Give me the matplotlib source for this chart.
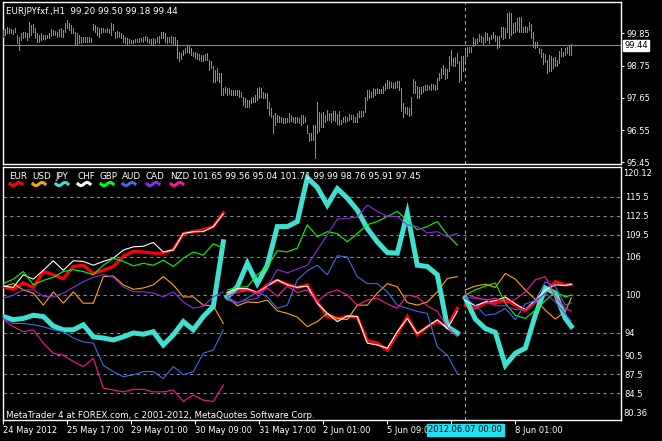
import numpy as np
import matplotlib
matplotlib.use("Agg")
import matplotlib.pyplot as plt
from matplotlib.lines import Line2D
import matplotlib.transforms as mtransforms

plt.rcParams["font.family"] = ["DejaVu Sans"]
plt.rcParams["font.size"] = 6

# ---- EURJPY H1 bars (high / low) ----
HIGH = [99.97, 99.99, 100.08, 100.02, 99.99, 99.97, 100.02, 99.80, 99.74, 99.85,
        99.89, 99.91, 99.85, 100.23, 100.14, 100.17, 100.02, 99.85, 99.80, 99.85,
        99.80, 99.80, 99.80, 99.85, 99.99, 99.97, 99.94, 99.91, 100.00, 100.02,
        99.97, 100.19, 100.31, 100.19, 100.14, 100.02, 99.89, 99.85, 99.80, 99.72,
        99.74, 99.72, 99.72, 99.71, 99.68, 100.17, 100.14, 100.08, 100.02, 100.02,
        100.02, 100.00, 100.02, 100.00, 100.19, 100.17, 99.91, 99.94, 99.89, 99.85,
        99.80, 99.74, 99.68, 99.65, 99.63, 99.63, 99.66, 99.65, 99.68, 99.68,
        99.71, 99.76, 99.71, 99.65, 99.65, 99.68, 99.65, 99.71, 99.76, 99.91,
        99.89, 99.85, 99.74, 99.74, 99.76, 99.74, 99.72, 99.63, 99.23, 99.17,
        99.28, 99.34, 99.46, 99.42, 99.34, 99.23, 99.23, 99.17, 99.14, 99.11,
        99.11, 99.14, 99.17, 98.94, 98.89, 98.72, 98.60, 98.66, 98.49, 98.49,
        97.98, 98.01, 97.98, 97.98, 97.92, 97.92, 97.92, 97.92, 97.92, 97.86,
        97.69, 97.64, 97.58, 97.58, 97.64, 97.69, 97.75, 97.98, 98.01, 97.98,
        97.86, 97.81, 97.81, 97.52, 97.30, 97.07, 97.12, 97.07, 97.03, 97.01,
        96.95, 96.95, 96.95, 97.12, 97.07, 97.01, 96.99, 97.01, 96.95, 97.07,
        97.07, 97.01, 96.73, 96.44, 96.46, 96.73, 96.73, 97.49, 97.18, 97.12,
        97.15, 97.07, 97.24, 97.12,
        97.12, 97.20, 97.20, 97.09, 97.20, 96.90, 96.99, 97.03, 97.01, 97.10,
        97.07, 97.07, 96.99, 97.12, 97.20, 97.20, 97.20, 97.69, 97.92, 97.92,
        97.86, 97.98, 97.94, 97.98, 97.94, 97.94, 98.06, 98.17, 98.26, 98.23,
        98.20, 98.17, 98.20, 98.23, 98.23, 97.98, 97.47, 97.35, 97.35, 97.30,
        97.69, 98.30, 98.23, 98.06, 98.01, 98.01, 98.06, 98.09, 98.09, 98.06,
        98.11, 98.12, 98.09, 98.32, 98.51, 98.66, 98.77, 98.68, 98.64, 99.08,
        99.28, 99.00, 99.03, 99.19, 98.91, 99.09, 99.06, 99.28, 99.40, 99.40,
        99.40, 99.71, 99.66, 99.68, 99.83, 99.77, 99.74, 99.88, 99.85, 99.71,
        99.81, 99.88, 99.80, 99.76, 99.76, 100.08, 100.05, 100.02, 100.54, 100.59,
        100.56, 100.19, 100.25, 100.39, 100.42, 100.42, 100.08, 100.10, 100.08, 100.25,
        100.17, 99.88, 99.57, 99.57, 99.34, 99.31, 99.17, 99.14, 98.94, 99.11,
        99.06, 99.00, 99.03, 98.94, 99.26, 99.36, 99.23, 99.34, 99.40, 99.46,
        99.49]
LOW = [99.74, 99.80, 99.85, 99.85, 99.85, 99.82, 99.91, 99.51, 99.28, 99.63,
       99.68, 99.74, 99.63, 99.74, 99.80, 99.91, 99.68, 99.57, 99.57, 99.63,
       99.65, 99.65, 99.68, 99.68, 99.76, 99.80, 99.80, 99.74, 99.76, 99.74,
       99.74, 99.91, 100.02, 99.97, 99.85, 99.85, 99.46, 99.46, 99.51, 99.51,
       99.57, 99.57, 99.57, 99.57, 99.57, 99.97, 99.91, 99.80, 99.74, 99.85,
       99.91, 99.89, 99.89, 99.85, 99.80, 99.97, 99.68, 99.72, 99.72, 99.68,
       99.57, 99.51, 99.49, 99.51, 99.51, 99.53, 99.55, 99.57, 99.57, 99.59,
       99.57, 99.63, 99.55, 99.51, 99.49, 99.46, 99.53, 99.57, 99.53, 99.68,
       99.68, 99.57, 99.51, 99.57, 99.51, 99.49, 99.46, 99.00, 98.89, 98.97,
       99.11, 99.17, 99.23, 99.17, 99.11, 99.06, 99.00, 98.97, 98.94, 98.91,
       98.91, 98.94, 98.94, 98.60, 98.66, 98.20, 98.20, 98.26, 98.20, 97.75,
       97.75, 97.81, 97.75, 97.78, 97.75, 97.75, 97.75, 97.75, 97.69, 97.69,
       97.41, 97.35, 97.33, 97.35, 97.47, 97.52, 97.52, 97.58, 97.64, 97.69,
       97.64, 97.64, 97.30, 97.07, 97.01, 96.44, 96.73, 96.84, 96.81, 96.84,
       96.78, 96.78, 96.81, 96.84, 96.87, 96.81, 96.78, 96.84, 96.78, 96.73,
       96.78, 96.84, 96.44, 96.16, 96.21, 96.21, 95.59, 96.44, 96.50, 96.67,
       96.67, 96.84, 96.90, 96.90,
       96.84, 96.90, 96.86, 96.76, 96.73, 96.76, 96.81, 96.84, 96.87, 96.90,
       96.92, 96.81, 96.81, 96.84, 97.01, 97.01, 97.03, 97.18, 97.58, 97.64,
       97.69, 97.69, 97.75, 97.81, 97.81, 97.81, 97.83, 97.92, 97.98, 97.98,
       98.01, 97.98, 97.98, 98.01, 97.92, 97.20, 97.01, 97.12, 97.09, 97.04,
       97.07, 97.81, 97.81, 97.66, 97.66, 97.78, 97.86, 97.92, 97.92, 97.94,
       97.92, 97.94, 97.90, 97.94, 98.26, 98.32, 98.47, 98.30, 98.32, 98.55,
       98.77, 98.72, 98.72, 98.83, 98.20, 98.26, 98.58, 98.94, 99.09, 99.23,
       99.23, 99.43, 99.49, 99.51, 99.59, 99.57, 99.49, 99.57, 99.63, 99.53,
       99.65, 99.68, 99.60, 99.36, 99.40, 99.74, 99.65, 99.68, 99.91, 99.68,
       99.80, 99.85, 99.91, 99.97, 99.91, 99.91, 99.91, 99.91, 99.91, 99.97,
       99.68, 99.40, 99.34, 99.38, 99.17, 99.03, 98.81, 98.86, 98.51, 98.55,
       98.58, 98.66, 98.72, 98.72, 98.83, 99.08, 99.06, 99.11, 99.19, 99.11,
       99.11]
TITLE = "EURJPYfxf.,H1  99.20 99.50 99.18 99.44"
LAST_PRICE = 99.44
PRICE_TICKS = [99.85, 98.75, 97.65, 96.55, 95.45]

# ---- currency index lines (three weekly-reset segments) ----
SEG_BARS = [list(range(0, 111, 5)), list(range(112, 228, 5)), list(range(231, 282, 5)) + [284]]
EUR = [[101.3, 100.9, 101.9, 101.2, 103.7, 103.2, 102.6, 104.5, 104.7, 103.4, 103.9, 104.5,
        106.1, 106.9, 106.8, 106.6, 106.6, 107.2, 109.7, 110.0, 110.3, 110.8, 113.0],
       [100.3, 100.8, 100.9, 100.3, 101.6, 102.3, 101.7, 101.2, 101.6, 98.9, 96.6, 96.3,
        96.6, 96.5, 92.8, 92.4, 91.3, 93.9, 96.6, 93.7, 95.0, 95.8, 95.0, 97.9],
       [98.4, 97.9, 98.8, 98.7, 99.3, 98.4, 97.5, 98.9, 100.5, 102.1, 101.6, 101.65]]
USD = [[101.3, 101.8, 100.8, 100.3, 98.4, 100.5, 98.7, 100.5, 98.7, 98.7, 102.9, 103.0,
        101.6, 100.9, 101.1, 101.6, 102.9, 101.6, 99.7, 99.7, 98.4, 98.3, 95.5],
       [99.7, 98.3, 98.9, 98.8, 99.2, 97.5, 97.1, 96.5, 95.0, 95.8, 97.1, 96.3,
        96.1, 98.4, 98.4, 100.3, 101.8, 101.3, 98.8, 98.4, 98.9, 100.5, 102.6, 102.9],
       [100.8, 101.4, 101.7, 101.2, 103.4, 102.5, 100.8, 99.3, 97.6, 96.2, 97.4, 99.56]]
JPY = [[96.6, 96.1, 96.3, 96.8, 96.6, 95.1, 94.5, 94.5, 95.3, 93.4, 93.2, 92.9,
        93.4, 94.0, 93.8, 94.2, 92.1, 93.7, 95.8, 94.5, 96.6, 98.2, 108.4],
       [99.7, 101.3, 105.0, 101.8, 104.7, 110.8, 110.8, 111.6, 118.5, 117.0, 114.2, 116.8,
        115.3, 113.4, 110.5, 108.4, 106.7, 106.6, 112.9, 104.7, 104.5, 103.2, 95.0, 94.0],
       [99.5, 96.2, 94.7, 94.1, 88.9, 90.8, 91.6, 96.8, 101.1, 100.3, 96.3, 95.04]]
CHF = [[101.4, 101.2, 103.2, 102.5, 103.9, 105.4, 103.9, 105.4, 105.3, 104.7, 105.3, 105.8,
        107.1, 107.6, 107.7, 108.3, 106.8, 107.1, 109.7, 110.0, 110.0, 110.8, 112.8],
       [100.4, 101.0, 101.0, 100.4, 101.4, 102.4, 101.6, 101.2, 101.4, 98.7, 97.1, 95.8,
        96.7, 96.6, 92.4, 92.1, 91.6, 94.2, 96.3, 93.9, 95.0, 96.1, 94.7, 97.4],
       [99.1, 98.3, 98.9, 99.1, 99.7, 98.6, 97.7, 99.2, 100.8, 101.6, 101.5, 101.71]]
GBP = [[101.8, 102.5, 103.7, 101.6, 102.3, 102.8, 103.7, 104.0, 103.7, 103.2, 104.7, 105.8,
        105.3, 104.6, 105.0, 104.7, 105.5, 104.5, 105.8, 106.8, 106.3, 108.1, 107.4],
       [100.8, 101.2, 101.3, 103.2, 104.5, 107.0, 106.8, 107.4, 111.1, 109.2, 110.0, 109.7,
        108.4, 109.7, 111.1, 111.6, 112.4, 113.2, 111.8, 110.3, 110.8, 111.6, 109.5, 107.9],
       [100.0, 100.8, 101.4, 101.9, 98.7, 96.8, 96.3, 97.6, 99.1, 100.5, 99.7, 99.99]]
AUD = [[96.3, 95.5, 95.5, 95.3, 95.0, 94.5, 94.2, 93.2, 92.6, 92.4, 88.9, 87.9,
        87.1, 87.4, 87.9, 87.9, 86.8, 88.7, 87.4, 87.9, 90.8, 91.3, 94.5],
       [99.2, 98.7, 99.5, 100.5, 99.7, 97.9, 98.4, 102.4, 103.8, 104.7, 103.2, 106.2,
        106.0, 102.9, 101.8, 101.8, 100.5, 98.4, 97.9, 97.4, 97.1, 91.8, 90.5, 87.6],
       [99.5, 98.4, 96.8, 97.0, 97.9, 96.1, 98.6, 99.1, 102.1, 101.3, 98.4, 98.76]]
CAD = [[99.5, 100.0, 100.8, 100.8, 99.8, 99.7, 100.3, 101.2, 102.1, 102.8, 103.2, 102.8,
        101.3, 100.5, 100.5, 100.3, 99.7, 100.5, 98.9, 97.9, 98.2, 99.7, 100.5],
       [99.7, 98.8, 99.2, 99.5, 101.3, 104.0, 103.5, 104.1, 104.7, 107.1, 109.5, 112.0,
        112.1, 112.3, 114.2, 113.2, 112.4, 112.4, 111.1, 110.8, 109.8, 110.0, 109.2, 109.7],
       [99.6, 99.5, 99.3, 98.3, 98.3, 97.7, 97.7, 98.9, 100.3, 98.9, 97.0, 95.91]]
NZD = [[96.1, 95.0, 94.2, 94.5, 92.4, 90.8, 90.5, 89.5, 88.7, 90.0, 85.3, 85.0,
        84.7, 85.1, 85.1, 84.7, 84.7, 85.0, 83.2, 84.2, 83.4, 83.2, 85.8],
       [99.8, 100.4, 100.7, 100.4, 101.1, 99.8, 101.4, 100.4, 100.8, 98.9, 100.3, 100.8,
        100.0, 98.4, 99.2, 99.5, 98.6, 97.9, 100.0, 99.7, 98.3, 97.4, 95.0, 93.4],
       [100.2, 99.6, 99.2, 99.5, 98.8, 99.3, 100.5, 102.4, 102.9, 99.7, 97.9, 97.45]]

NAMES = ["EUR", "USD", "JPY", "CHF", "GBP", "AUD", "CAD", "NZD"]
SERIES = [EUR, USD, JPY, CHF, GBP, AUD, CAD, NZD]
LAST_VALUES = "101.65 99.56 95.04 101.71 99.99 98.76 95.91 97.45"
INDEX_TICKS = [115.5, 112.5, 109.5, 106, 100, 94, 90.5, 87.5, 84.5]
INDEX_MAX, INDEX_MIN = "120.12", "80.36"

TIME_BARS = [0, 32, 64, 96, 128, 160, 192, 224, 256]
TIME_LABELS = ["24 May 2012", "25 May 17:00", "29 May 01:00", "30 May 09:00",
               "31 May 17:00", "2 Jun 01:00", "5 Jun 09:0", "", "8 Jun 01:00"]
CROSS_BAR = 231
CROSS_LABEL = "2012.06.07 00:00"
COPYRIGHT = "MetaTrader 4 at FOREX.com, c 2001-2012, MetaQuotes Software Corp."

# styles
COLORS = ["#ff0000", "#ffa500", "#40e0d0", "#ffffff", "#00ff00", "#4169e1", "#8a2be2", "#ff1493"]
WIDTHS = [2.3, 0.8, 3.6, 0.8, 0.8, 0.8, 0.8, 0.8]
GRID = "#778899"
CROSS = "#22e0f0"
BAR = "#32cd32"

W, H = 662, 441
fig = plt.figure(figsize=(W / 100, H / 100), dpi=100, facecolor="black")


def box(l, t, r, b):
    return [l / W, 1 - b / H, (r - l) / W, (b - t) / H]


ax1 = fig.add_axes(box(2.5, 2, 620.5, 164))
ax2 = fig.add_axes(box(2.5, 167, 620.5, 420))
for ax in (ax1, ax2):
    ax.set_facecolor("black")
    for s in ax.spines.values():
        s.set_color("white")
        s.set_linewidth(1)
    ax.set_xlim(-0.4, 308.6)
    ax.yaxis.tick_right()
    ax.axvline(CROSS_BAR, color=CROSS, lw=0.8, ls=(0, (3, 3)), zorder=1)

# upper panel: bars
x = np.arange(len(HIGH))
ax1.vlines(x, LOW, HIGH, color=BAR, lw=0.6, antialiased=False, zorder=3)
ax1.axhline(LAST_PRICE, color=GRID, lw=0.8, zorder=2)
ax1.set_ylim(95.39, 100.92)
ax1.set_xticks([])
ax1.set_yticks(PRICE_TICKS)
ax1.set_yticklabels([f"{v:.2f}" for v in PRICE_TICKS])
ax1.tick_params(axis="y", colors="white", length=2, pad=2, labelsize=6)
trans1 = mtransforms.blended_transform_factory(ax1.transAxes, ax1.transData)
ax1.text(1.006, LAST_PRICE, f"{LAST_PRICE:.2f}", transform=trans1, color="black",
         va="center", ha="left", fontsize=6,
         bbox=dict(boxstyle="square,pad=0.15", fc="white", ec="white"))

# lower panel: currency indices
for v in INDEX_TICKS:
    ax2.axhline(v, color=GRID, lw=0.8, ls=(0, (3, 3)), zorder=1)
for name, ser, col, lw in zip(NAMES, SERIES, COLORS, WIDTHS):
    for bars, vals in zip(SEG_BARS, ser):
        ax2.plot(bars, vals, color=col, lw=lw, zorder=3, solid_joinstyle="miter")
ax2.set_ylim(80.26, 120.21)
ax2.set_yticks(INDEX_TICKS)
ax2.set_yticklabels([f"{v:g}" for v in INDEX_TICKS])
ax2.tick_params(axis="y", colors="white", length=0, pad=3, labelsize=6)
ax2.text(1.005, 0.975, INDEX_MAX, transform=ax2.transAxes, color="white", fontsize=6,
         va="center", ha="left")
ax2.text(1.005, 0.027, INDEX_MIN, transform=ax2.transAxes, color="white", fontsize=6,
         va="center", ha="left")
ax2.set_xticks(TIME_BARS)
ax2.set_xticklabels(TIME_LABELS, ha="left")
ax2.tick_params(axis="x", colors="white", length=3, pad=1.5, labelsize=6)
trans2 = mtransforms.blended_transform_factory(ax2.transData, fig.transFigure)
ax2.text(CROSS_BAR, 1 - 430 / H, CROSS_LABEL, transform=trans2, color="black", fontsize=6,
         ha="center", va="center", zorder=10, clip_on=False,
         bbox=dict(boxstyle="square,pad=0.2", fc=CROSS, ec=CROSS))

# texts
fig.text(6.5 / W, 1 - 11 / H, TITLE, color="white", fontsize=6.3, va="center")
fig.text(6 / W, 1 - 415.5 / H, COPYRIGHT, color="white", fontsize=6.3, va="center")

name_x = [9, 32, 55, 77, 100, 122, 146, 170]
for nx, name, col in zip(name_x, NAMES, COLORS):
    fig.text(nx / W, 1 - 176.5 / H, name, color="white", fontsize=6.3, va="center")
    t = np.linspace(0, 1, 12)
    wx = (nx + 1 + 12 * t) / W
    wy = 1 - (184 + 1.6 * np.sin(t * 2 * np.pi)) / H
    fig.add_artist(Line2D(wx, wy, color=col, lw=2.2, transform=fig.transFigure))
fig.text(192 / W, 1 - 176.5 / H, LAST_VALUES, color="white", fontsize=6.3, va="center")

fig.savefig("out.png", dpi=100, facecolor="black")
